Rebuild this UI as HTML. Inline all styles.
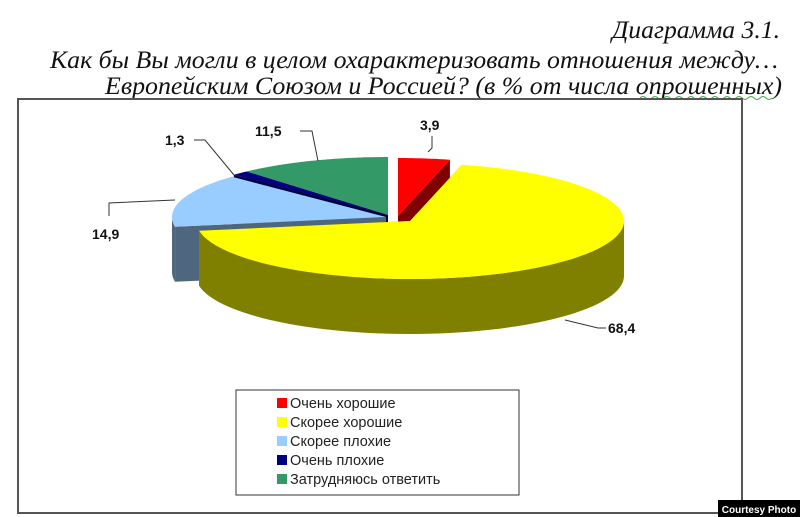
<!DOCTYPE html>
<html><head><meta charset="utf-8"><style>
html,body{margin:0;padding:0;background:#fff;width:800px;height:517px;overflow:hidden}
</style></head><body>
<svg id="s" width="800" height="517" xmlns="http://www.w3.org/2000/svg" font-family="Liberation Sans, Arial, sans-serif">
<rect x="0" y="0" width="800" height="517" fill="#fff"/>
<g font-family="Liberation Serif, serif" font-style="italic" fill="#111">
<text x="612" y="38" font-size="25" textLength="168" lengthAdjust="spacingAndGlyphs">Диаграмма 3.1.</text>
<text x="50" y="68" font-size="25" textLength="728" lengthAdjust="spacingAndGlyphs">Как бы Вы могли в целом охарактеризовать отношения между…</text>
<text x="105" y="94" font-size="25" textLength="677" lengthAdjust="spacingAndGlyphs">Европейским Союзом и Россией? (в % от числа опрошенных)</text>
</g>
<path d="M640 98 q3 -3 6 0 q3 3 6 0 q3 -3 6 0 q3 3 6 0 q3 -3 6 0 q3 3 6 0 q3 -3 6 0 q3 3 6 0 q3 -3 6 0 q3 3 6 0 q3 -3 6 0 q3 3 6 0 q3 -3 6 0 q3 3 6 0 q3 -3 6 0 q3 3 6 0 q3 -3 6 0 q3 3 6 0 q3 -3 6 0 q3 3 6 0 q3 -3 6 0 q3 3 6 0" stroke="#4a4" fill="none" stroke-width="1"/>
<rect x="18" y="99" width="724" height="414" fill="none" stroke="#555" stroke-width="2"/>
<g id="pie"></g>
<g stroke="#333" stroke-width="1" fill="none">
<polyline points="428,152 432,148 432,136"/>
<polyline points="318,161 312,131 300,131"/>
<polyline points="234,175 205,140 194,140"/>
<polyline points="109,216 109,203 175,200"/>
<polyline points="565,320 598,328 606,328"/>
</g>
<g font-weight="bold" font-size="14" fill="#111">
<text x="420" y="130">3,9</text>
<text x="255" y="136">11,5</text>
<text x="165" y="145">1,3</text>
<text x="92" y="239">14,9</text>
<text x="608" y="333">68,4</text>
</g>
<rect x="236" y="390" width="283" height="105" fill="#fff" stroke="#333" stroke-width="1"/>
<g font-size="14.5" fill="#222">
<rect x="277" y="398" width="10" height="10" fill="#ff0000"/><text x="290" y="408">Очень хорошие</text>
<rect x="277" y="417" width="10" height="10" fill="#ffff00"/><text x="290" y="427">Скорее хорошие</text>
<rect x="277" y="436" width="10" height="10" fill="#99ccff"/><text x="290" y="446">Скорее плохие</text>
<rect x="277" y="455" width="10" height="10" fill="#000080"/><text x="290" y="465">Очень плохие</text>
<rect x="277" y="474" width="10" height="10" fill="#339966"/><text x="290" y="484">Затрудняюсь ответить</text>
</g>
<rect x="718" y="500" width="82" height="17" fill="#000"/>
<text x="759" y="513" font-size="10" font-weight="bold" fill="#fff" text-anchor="middle">Courtesy Photo</text>
</svg>
<script>
(function(){
var cx=388,cy=215,rx=214,ry=58,d=55;
var data=[[3.9,'#ff0000','#800000',10,1],[68.4,'#ffff00','#808000',22,6],[14.9,'#99ccff','#4f667f',-2,2],[1.3,'#000080','#000040',0,0],[11.5,'#339966','#1d5a3b',0,0]];
var g=document.getElementById('pie'),ns='http://www.w3.org/2000/svg';
function P(x,y,t){return [x+rx*Math.sin(t),y-ry*Math.cos(t)];}
var a=0,sl=[];
data.forEach(function(s){var a1=a*Math.PI/180,a2=(a+s[0]*3.6)*Math.PI/180;a+=s[0]*3.6;
sl.push({a1:a1,a2:a2,x:cx+s[3],y:cy+s[4],c:s[1],sc:s[2]});});
function path(dd,f){var p=document.createElementNS(ns,'path');p.setAttribute('d',dd);p.setAttribute('fill',f);g.appendChild(p);}
function arc(x,y,a1,a2,n){var s='';for(var i=0;i<=n;i++){var t=a1+(a2-a1)*i/n,q=P(x,y,t);s+=(i?'L':'')+q[0].toFixed(1)+' '+q[1].toFixed(1)+' ';}return s;}
var faces=[];
sl.forEach(function(s){
 [s.a1,s.a2].forEach(function(t){var q=P(s.x,s.y,t);
  faces.push({z:(s.y+q[1])/2,d:'M'+s.x+' '+s.y+' L'+q[0]+' '+q[1]+' L'+q[0]+' '+(q[1]+d)+' L'+s.x+' '+(s.y+d)+'Z',c:s.sc});});
 var b1=Math.max(s.a1,Math.PI/2),b2=Math.min(s.a2,Math.PI*1.5);
 if(b2>b1){var top=arc(s.x,s.y,b1,b2,60);var bot=arc(s.x,s.y+d,b2,b1,60);
  faces.push({z:s.y+ry+5,d:'M'+top+'L'+bot+'Z',c:s.sc});}
});
faces.sort(function(p,q){return p.z-q.z;});
faces.forEach(function(f){path(f.d,f.c);});
sl.forEach(function(s){path('M'+s.x+' '+s.y+' L'+arc(s.x,s.y,s.a1,s.a2,80)+'Z',s.c);});
})();
</script>
</body></html>
